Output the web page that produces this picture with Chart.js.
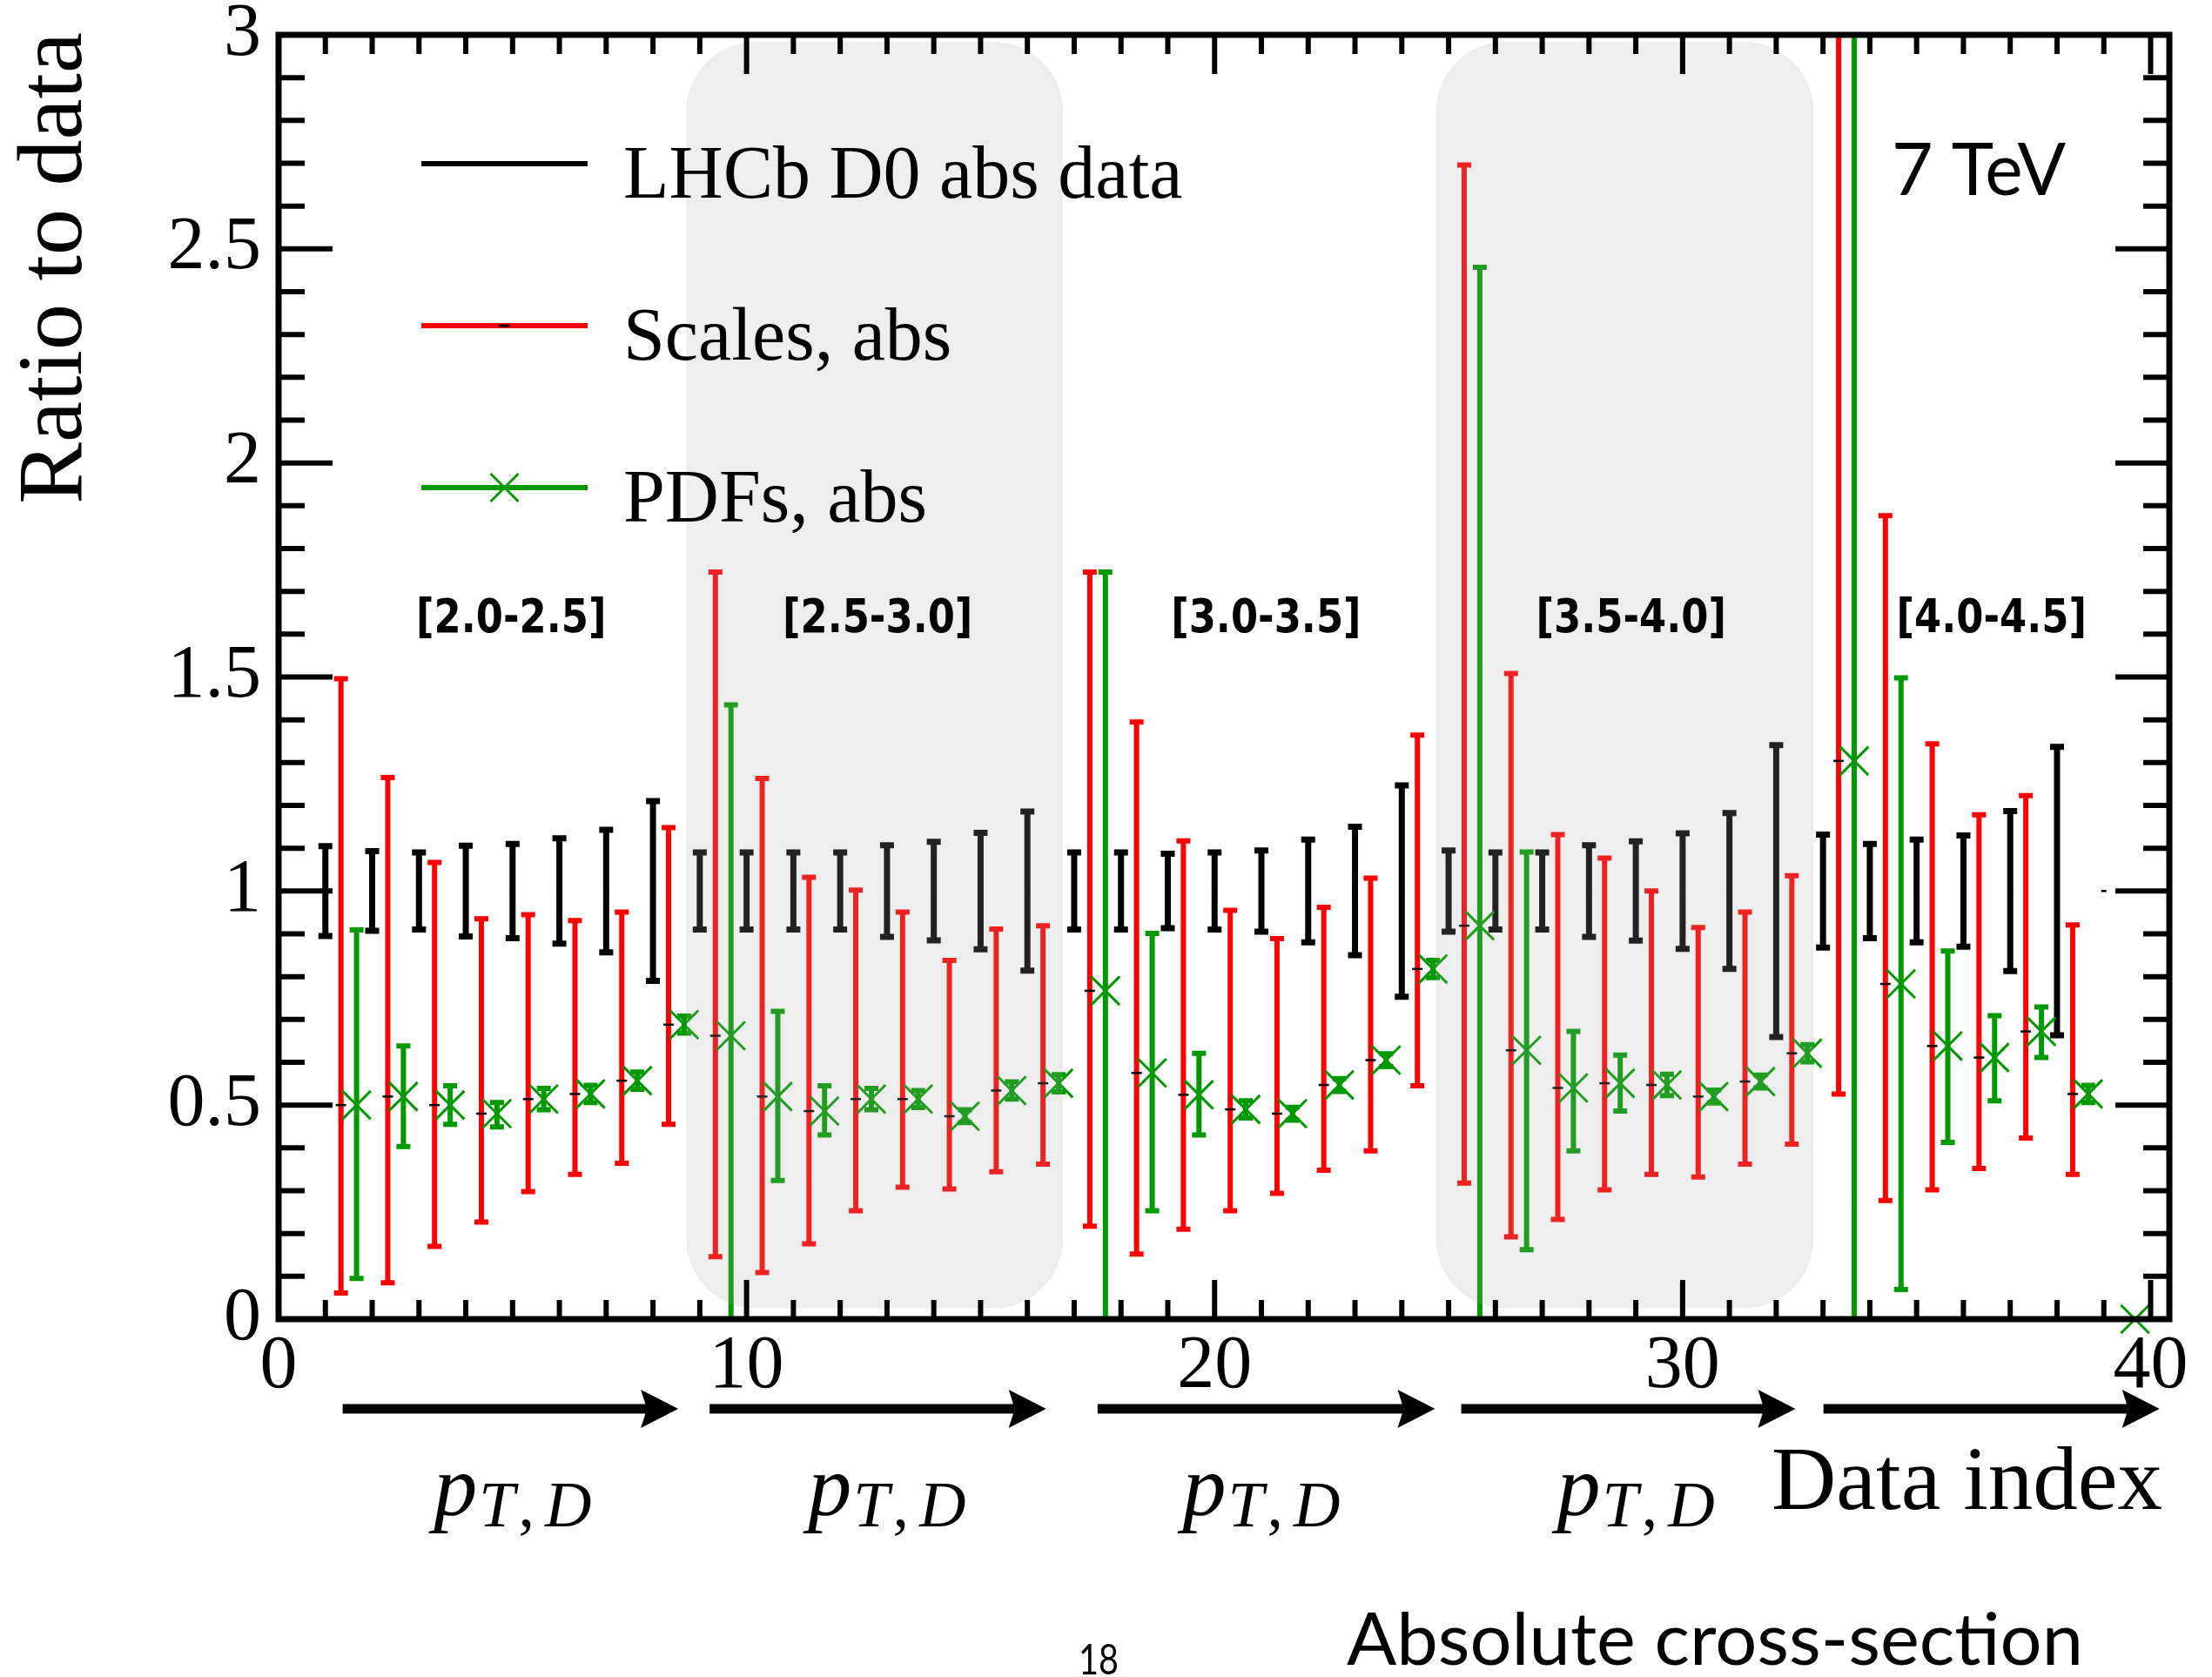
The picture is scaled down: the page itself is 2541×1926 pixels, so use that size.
<!DOCTYPE html>
<html>
<head>
<meta charset="utf-8">
<script src="https://cdn.jsdelivr.net/npm/chart.js@4.4.1/dist/chart.umd.min.js"></script>
<style>
  html, body { margin: 0; padding: 0; background: #fff; }
  #wrap { width: 2541px; height: 1926px; }
</style>
</head>
<body>
<div id="wrap"><canvas id="ratioChart"></canvas></div>
<script>
// LHCb D0 absolute cross-section, 7 TeV: theory / data ratio per data point
const dataIndex = [1, 2, 3, 4, 5, 6, 7, 8, 9, 10, 11, 12, 13, 14, 15, 16, 17, 18, 19, 20,
  21, 22, 23, 24, 25, 26, 27, 28, 29, 30, 31, 32, 33, 34, 35, 36, 37, 38, 39];

const dataRatio = [1, 1, 1, 1, 1, 1, 1, 1, 1, 1, 1, 1, 1, 1, 1, 1, 1, 1, 1, 1,
  1, 1, 1, 1, 1, 1, 1, 1, 1, 1, 1, 1, 1, 1, 1, 1, 1, 1, 1];
const dataErr = [0.105, 0.093, 0.09, 0.106, 0.11, 0.123, 0.143, 0.21, 0.09, 0.09,
  0.09, 0.09, 0.107, 0.115, 0.136, 0.186, 0.09, 0.09, 0.087, 0.09,
  0.095, 0.12, 0.15, 0.247, 0.095, 0.09, 0.09, 0.107, 0.116, 0.135,
  0.182, 0.341, 0.132, 0.11, 0.12, 0.13, 0.187, 0.337, 0];

// central theory prediction (shared by scale and PDF variations)
const theory = [0.50, 0.52, 0.50, 0.48, 0.514, 0.526, 0.557, 0.688, 0.662, 0.52,
  0.486, 0.514, 0.514, 0.474, 0.534, 0.551, 0.767, 0.575, 0.524, 0.49,
  0.48, 0.547, 0.605, 0.818, 0.919, 0.628, 0.54, 0.551, 0.547, 0.52,
  0.555, 0.621, 1.304, 0.783, 0.638, 0.611, 0.672, 0.526, 0];

const scaleLo = [0.061, 0.085, 0.17, 0.227, 0.298, 0.338, 0.364, 0.455, 0.146, 0.109,
  0.176, 0.253, 0.308, 0.304, 0.344, 0.362, 0.217, 0.152, 0.21, 0.253,
  0.294, 0.348, 0.393, 0.545, 0.318, 0.192, 0.233, 0.302, 0.338, 0.332,
  0.362, 0.409, 0.526, 0.277, 0.302, 0.352, 0.423, 0.338, null];
const scaleHi = [1.496, 1.265, 1.067, 0.935, 0.945, 0.931, 0.951, 1.148, 1.745, 1.263,
  1.032, 1.002, 0.951, 0.838, 0.911, 0.919, 1.745, 1.395, 1.117, 0.955,
  0.889, 0.962, 1.03, 1.364, 2.696, 1.508, 1.132, 1.077, 1.0, 0.915,
  0.951, 1.036, 3.3, 1.877, 1.344, 1.178, 1.223, 0.921, null];

const pdfLo = [0.095, 0.403, 0.455, 0.449, 0.489, 0.506, 0.537, 0.668, -0.111, 0.324,
  0.43, 0.489, 0.494, 0.459, 0.514, 0.531, -0.211, 0.253, 0.43, 0.47,
  0.465, 0.532, 0.59, 0.798, -0.619, 0.162, 0.393, 0.486, 0.522, 0.505,
  0.54, 0.601, -0.6, 0.069, 0.413, 0.51, 0.611, 0.506, null];
const pdfHi = [0.909, 0.638, 0.545, 0.506, 0.539, 0.546, 0.577, 0.708, 1.435, 0.719,
  0.545, 0.539, 0.534, 0.489, 0.554, 0.571, 1.745, 0.901, 0.621, 0.51,
  0.495, 0.562, 0.62, 0.838, 2.457, 1.091, 0.672, 0.617, 0.572, 0.535,
  0.57, 0.641, 3.2, 1.498, 0.86, 0.709, 0.729, 0.546, null];

const seriesLabels = ['LHCb D0 abs data', 'Scales, abs', 'PDFs, abs'];
const binLabels = ['[2.0-2.5]', '[2.5-3.0]', '[3.0-3.5]', '[3.5-4.0]', '[4.0-4.5]'];
const xTicks = [0, 10, 20, 30, 40];
const yTicks = [0, 0.5, 1, 1.5, 2, 2.5, 3];

const RED = '#ff0000';
const GREEN = '#009900';
const SERIF = '"Liberation Serif", "Times New Roman", serif';
const SANS = 'Lato, "DejaVu Sans", sans-serif';

// layout of the annotations, in axis units
const binLabelX = [4.97, 12.8, 21.1, 28.9, 36.6];
const arrowSpans = [[1.37, 8.54], [9.21, 16.4], [17.5, 24.71], [25.27, 32.41], [33.01, 40.19]];
const ptLabelX = [5, 13, 21, 29];
const bands = [[8.71, 16.76], [24.73, 32.8]];

const ctx = document.getElementById('ratioChart').getContext('2d');

function scaledText(c, text, x, y, sx, align) {
  c.save();
  c.translate(x, y);
  c.scale(sx, 1);
  c.textAlign = align || 'left';
  c.fillText(text, 0, 0);
  c.restore();
}

function fitText(c, text, x, y, width) {
  scaledText(c, text, x, y, width / c.measureText(text).width, 'left');
}

function crossMark(c, x, y, h, lw) {
  c.lineWidth = lw;
  c.beginPath();
  c.moveTo(x - h, y - h); c.lineTo(x + h, y + h);
  c.moveTo(x - h, y + h); c.lineTo(x + h, y - h);
  c.stroke();
}

// p_{T,D} written piece by piece: italic p, then the subscript pair
function ptLabel(c, cx, base) {
  const pieces = [
    { t: 'p', font: 'italic 100px ' + SERIF, dy: 0, gap: 2 },
    { t: 'T', font: 'italic 74px ' + SERIF, dy: 13, gap: 4 },
    { t: ',', font: '74px ' + SERIF, dy: 13, gap: 12 },
    { t: 'D', font: 'italic 74px ' + SERIF, dy: 13, gap: 0 }
  ];
  let total = 0;
  pieces.forEach(p => { c.font = p.font; p.w = c.measureText(p.t).width; total += p.w + p.gap; });
  let px = cx - total / 2;
  c.textAlign = 'left';
  pieces.forEach(p => {
    c.font = p.font;
    c.fillText(p.t, px, base + p.dy);
    px += p.w + p.gap;
  });
}

// vertical error bars with caps, clipped to the frame
const errorBars = {
  id: 'errorBars',
  beforeDatasetsDraw(chart) {
    const { ctx: c, chartArea: a, scales: { x, y } } = chart;
    c.save();
    c.beginPath();
    c.rect(a.left, a.top, a.right - a.left, a.bottom - a.top);
    c.clip();
    chart.data.datasets.forEach(ds => {
      const b = ds.bars;
      c.strokeStyle = b.color;
      c.lineWidth = b.width;
      ds.data.forEach((p, k) => {
        if (b.lo[k] == null || b.lo[k] === b.hi[k]) return;
        const px = x.getPixelForValue(p.x);
        const y0 = y.getPixelForValue(b.lo[k]);
        const y1 = y.getPixelForValue(b.hi[k]);
        c.beginPath();
        c.moveTo(px, y0); c.lineTo(px, y1);
        c.moveTo(px - b.cap, y0); c.lineTo(px + b.cap, y0);
        c.moveTo(px - b.cap, y1); c.lineTo(px + b.cap, y1);
        c.stroke();
      });
    });
    c.restore();
  }
};

// grey rounded boxes marking alternate rapidity bins
const rapidityBands = {
  id: 'rapidityBands',
  afterDatasetsDraw(chart) {
    const { ctx: c, scales: { x, y } } = chart;
    c.save();
    c.fillStyle = 'rgba(170, 170, 170, 0.2)';
    const top = y.getPixelForValue(2.984);
    const bottom = y.getPixelForValue(0.025);
    bands.forEach(([from, to]) => {
      const l = x.getPixelForValue(from);
      const r = x.getPixelForValue(to);
      c.beginPath();
      c.roundRect(l, top, r - l, bottom - top, 80);
      c.fill();
    });
    c.restore();
  }
};

// frame with inward ticks on all four sides
const frame = {
  id: 'frame',
  afterDraw(chart) {
    const { ctx: c, chartArea: a, scales: { x, y } } = chart;
    c.save();
    c.strokeStyle = '#000';
    c.lineWidth = 6;
    c.beginPath();
    for (let v = 1; v < 41; v++) {
      const px = x.getPixelForValue(v);
      const len = v % 10 === 0 ? 45 : 22;
      c.moveTo(px, a.top); c.lineTo(px, a.top + len);
      c.moveTo(px, a.bottom); c.lineTo(px, a.bottom - len);
    }
    for (let k = 1; k < 30; k++) {
      const py = y.getPixelForValue(k / 10);
      const len = k % 5 === 0 ? 62 : 30;
      c.moveTo(a.left, py); c.lineTo(a.left + len, py);
      c.moveTo(a.right, py); c.lineTo(a.right - len, py);
    }
    c.stroke();
    c.lineWidth = 7;
    c.strokeRect(a.left, a.top, a.right - a.left, a.bottom - a.top);
    c.restore();
  }
};

// legend, bin labels, arrows and titles
const annotations = {
  id: 'annotations',
  afterDraw(chart) {
    const { ctx: c, chartArea: a, scales: { x, y } } = chart;
    c.save();
    c.fillStyle = '#000';
    c.textBaseline = 'alphabetic';

    // legend
    const ds = chart.data.datasets;
    const rows = [148, 334, 520];
    const lx0 = a.left + 164, lx1 = a.left + 355, lmid = (lx0 + lx1) / 2;
    ds.forEach((d, i) => {
      const ly = a.top + rows[i];
      c.strokeStyle = d.bars.color;
      c.lineWidth = 6;
      c.beginPath(); c.moveTo(lx0, ly); c.lineTo(lx1, ly); c.stroke();
      if (i === 1) {
        c.strokeStyle = '#000'; c.lineWidth = 3;
        c.beginPath(); c.moveTo(lmid - 6, ly); c.lineTo(lmid + 6, ly); c.stroke();
      }
      if (i === 2) {
        c.strokeStyle = GREEN;
        crossMark(c, lmid, ly, 16, 3);
      }
      c.font = '86px ' + SERIF;
      c.fillText(d.label, a.left + 396, ly + 39);
    });

    // rapidity bin labels
    c.font = 'bold 54px "DejaVu Sans", sans-serif';
    binLabels.forEach((t, i) => {
      scaledText(c, t, x.getPixelForValue(binLabelX[i]), y.getPixelForValue(1.605), 0.83, 'center');
    });

    // centre-of-mass energy
    c.font = '83px ' + SANS;
    fitText(c, '7 TeV', 2173, 224, 200);

    // pT direction arrows
    const ay = 1618;
    arrowSpans.forEach(([from, to]) => {
      const l = x.getPixelForValue(from);
      const tip = x.getPixelForValue(to);
      c.fillRect(l, ay - 5.5, tip - 36 - l, 11);
      c.beginPath();
      c.moveTo(tip, ay);
      c.lineTo(tip - 43, ay - 22);
      c.lineTo(tip - 36, ay);
      c.lineTo(tip - 43, ay + 22);
      c.closePath();
      c.fill();
    });

    // p_{T,D} labels under the arrows
    ptLabelX.forEach(v => ptLabel(c, x.getPixelForValue(v), 1740));

    // axis titles
    c.font = '103px ' + SERIF;
    c.textAlign = 'right';
    c.fillText('Data index', 2484, 1733);

    c.save();
    c.translate(93, 37);
    c.rotate(-Math.PI / 2);
    c.font = '106px ' + SERIF;
    c.textAlign = 'right';
    c.fillText('Ratio to data', 0, 0);
    c.restore();

    c.textAlign = 'left';
    c.font = '84px ' + SANS;
    fitText(c, 'Absolute cross-section', 1547, 1912, 846);
    c.font = '49px ' + SANS;
    fitText(c, '18', 1239, 1923, 46);
    c.restore();
  }
};

new Chart(ctx, {
  type: 'scatter',
  data: {
    datasets: [
      {
        label: seriesLabels[0],
        data: dataIndex.map((d, k) => ({ x: d, y: dataRatio[k] })),
        bars: {
          lo: dataRatio.map((r, k) => r - dataErr[k]),
          hi: dataRatio.map((r, k) => r + dataErr[k]),
          color: '#000', width: 7, cap: 8
        },
        pointStyle: 'line', pointRadius: 3, borderWidth: 2.5, borderColor: '#000'
      },
      {
        label: seriesLabels[1],
        data: dataIndex.map((d, k) => ({ x: d + 1 / 3, y: theory[k] })),
        bars: { lo: scaleLo, hi: scaleHi, color: RED, width: 6, cap: 8 },
        pointStyle: 'line', pointRadius: 6, borderWidth: 2.5, borderColor: '#000'
      },
      {
        label: seriesLabels[2],
        data: dataIndex.map((d, k) => ({ x: d + 2 / 3, y: theory[k] })),
        bars: { lo: pdfLo, hi: pdfHi, color: GREEN, width: 6, cap: 8 },
        pointStyle: 'crossRot', pointRadius: 23, borderWidth: 3, borderColor: GREEN,
        clip: false
      }
    ]
  },
  options: {
    responsive: true,
    maintainAspectRatio: false,
    animation: false,
    events: [],
    layout: { padding: { left: 0, right: 49, top: 40, bottom: 311 } },
    plugins: { legend: { display: false }, tooltip: { enabled: false } },
    scales: {
      x: {
        type: 'linear', min: 0, max: 40.4,
        grid: { display: false, drawTicks: false },
        border: { display: false },
        afterBuildTicks: s => { s.ticks = xTicks.map(v => ({ value: v })); },
        afterFit: s => { s.height = 100; s.paddingLeft = 0; s.paddingRight = 0; },
        ticks: {
          font: { family: SERIF, size: 86 }, color: '#000', padding: 4,
          maxRotation: 0, autoSkip: false, callback: v => String(v)
        }
      },
      y: {
        type: 'linear', min: 0, max: 3,
        grid: { display: false, drawTicks: false },
        border: { display: false },
        afterBuildTicks: s => { s.ticks = yTicks.map(v => ({ value: v })); },
        afterFit: s => { s.width = 320; s.paddingTop = 0; s.paddingBottom = 0; },
        ticks: {
          font: { family: SERIF, size: 86 }, color: '#000', padding: 20,
          autoSkip: false, callback: v => String(v)
        }
      }
    }
  },
  plugins: [errorBars, rapidityBands, frame, annotations]
});
</script>
</body>
</html>
